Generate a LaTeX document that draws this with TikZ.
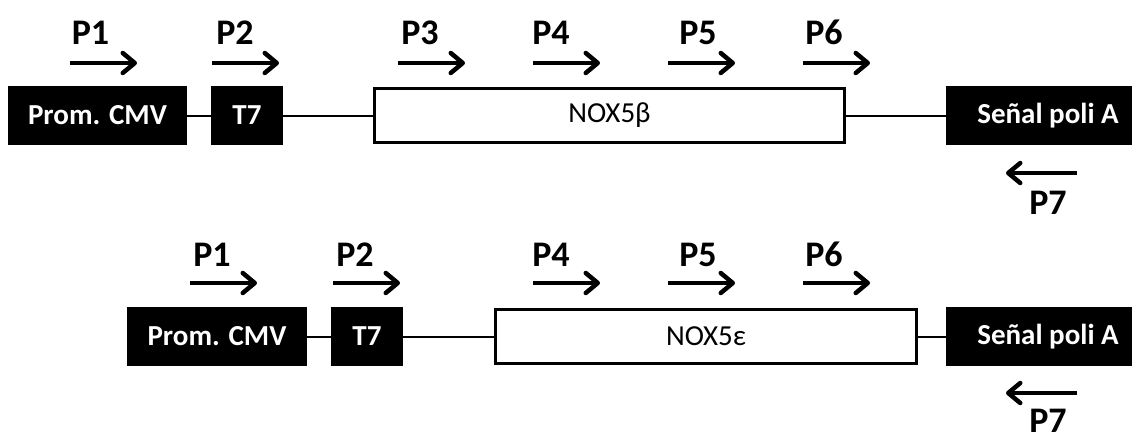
\documentclass[tikz,border=0pt]{standalone}
\usepackage{fontspec}
\setmainfont{Carlito}
\usetikzlibrary{arrows.meta}
\begin{document}
\begin{tikzpicture}[x=1pt,y=-1pt,
  blk/.style={fill=black, text=white, inner sep=0pt, outer sep=0pt, anchor=north west,
    minimum height=59pt, font=\bfseries\fontsize{29}{30}\selectfont},
  gene/.style={draw=black, fill=white, line width=3pt, inner sep=0pt, outer sep=0pt,
    anchor=north west, minimum height=54pt, font=\fontsize{29}{30}\selectfont},
  link/.style={line width=2pt},
  primer/.style={line width=4.5pt,
    -{Straight Barb[length=12pt,width=20pt,line cap=round,line join=round]}},
  plabel/.style={inner sep=0pt, font=\bfseries\fontsize{36}{38}\selectfont}]
\useasboundingbox (0,0) rectangle (1132,437);

% ---- construct 1: NOX5 beta ----
\node[blk, minimum width=179pt] (cmvA) at (8,86) {Prom. CMV};
\node[blk, minimum width=72pt] (tA) at (211,86) {T7};
\node[gene, minimum width=470pt] (noxA) at (374.5,88.5) {NOX5β};
\node[blk, minimum width=204pt] (polyA) at (946,86) {Señal poli A};
\draw[link] (cmvA.east) -- (tA.west);
\draw[link] (tA.east) -- (noxA.west);
\draw[link] (noxA.east) -- (polyA.west);

\foreach \x/\lx/\n in {70/90.5/1, 212/235/2, 398/420/3, 533/551/4, 668/698/5, 803/824/6} {
  \draw[primer] (\x,63) -- ++(67,0);
  \node[plabel] at (\lx,32.5) {P\n};
}
\draw[primer] (1077,173) -- (1006,173);
\node[plabel] at (1048,203) {P7};

% ---- construct 2: NOX5 epsilon ----
\node[blk, minimum width=180pt] (cmvB) at (127,307) {Prom. CMV};
\node[blk, minimum width=72pt] (tB) at (331,307) {T7};
\node[gene, minimum width=421pt] (noxB) at (495.5,309.5) {NOX5ε};
\node[blk, minimum width=204pt] (polyB) at (946,307) {Señal poli A};
\draw[link] (cmvB.east) -- (tB.west);
\draw[link] (tB.east) -- (noxB.west);
\draw[link] (noxB.east) -- (polyB.west);

\foreach \x/\lx/\n in {190/212/1, 333/355/2, 533/551/4, 668/698/5, 803/824/6} {
  \draw[primer] (\x,283) -- ++(67,0);
  \node[plabel] at (\lx,254.5) {P\n};
}
\draw[primer] (1077,393) -- (1006,393);
\node[plabel] at (1048,421) {P7};
\end{tikzpicture}
\end{document}
